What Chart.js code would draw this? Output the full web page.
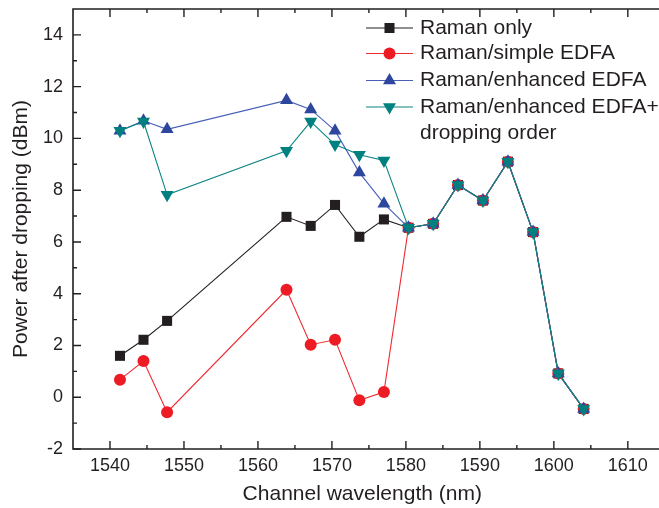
<!DOCTYPE html>
<html><head><meta charset="utf-8">
<script src="https://cdn.jsdelivr.net/npm/chart.js@4/dist/chart.umd.min.js"></script>
<style>html,body{margin:0;padding:0;overflow:hidden;background:#fff;width:659px;height:508px}canvas{display:block}</style>
</head><body>
<canvas id="c" width="659" height="508"></canvas>
<script>
// Channel wavelengths (nm), shared by all series
const wavelengths = [1541.35, 1544.53, 1547.72, 1563.86, 1567.13, 1570.42, 1573.71, 1577.03, 1580.35, 1583.69, 1587.04, 1590.41, 1593.79, 1597.19, 1600.60, 1604.03];
// Power after dropping (dBm)
const ramanOnly      = [1.60, 2.22, 2.95, 6.97, 6.62, 7.43, 6.20, 6.87, 6.55, 6.70, 8.20, 7.60, 9.10, 6.38, 0.92, -0.45];
const ramanSimple    = [0.68, 1.40, -0.58, 4.15, 2.03, 2.22, -0.12, 0.20, 6.55, 6.70, 8.20, 7.60, 9.10, 6.38, 0.92, -0.45];
const ramanEnhanced  = [10.30, 10.68, 10.35, 11.47, 11.12, 10.30, 8.68, 7.48, 6.55, 6.70, 8.20, 7.60, 9.10, 6.38, 0.92, -0.45];
const ramanDropOrder = [10.30, 10.65, 7.82, 9.52, 10.65, 9.76, 9.37, 9.15, 6.55, 6.70, 8.20, 7.60, 9.10, 6.38, 0.92, -0.45];
const seriesLabels = ['Raman only', 'Raman/simple EDFA', 'Raman/enhanced EDFA', 'Raman/enhanced EDFA+ dropping order'];
const xTickValues = [1540, 1550, 1560, 1570, 1580, 1590, 1600, 1610];
const yTickValues = [-2, 0, 2, 4, 6, 8, 10, 12, 14];

const FONT = "'Liberation Sans', Arial, Helvetica, sans-serif";
const TXT = '#231f20';
const AX = '#231f20';

function pts(ys) { return wavelengths.map((x, i) => ({ x: x, y: ys[i] })); }

const styles = [
  { line: '#231f20', fill: '#231f20', shape: 'rect', r: 7.1, rot: 0, order: 3 },
  { line: '#ee2a2f', fill: '#ed1c24', shape: 'circle', r: 6, rot: 0, order: 2 },
  { line: '#4660b8', fill: '#2d479f', shape: 'triangle', r: 7.5, rot: 0, order: 1 },
  { line: '#0b8482', fill: '#00807e', shape: 'triangle', r: 7.5, rot: 180, order: 0 }
];
const seriesValues = [ramanOnly, ramanSimple, ramanEnhanced, ramanDropOrder];

const datasets = seriesValues.map((v, i) => ({
  label: seriesLabels[i],
  data: pts(v),
  borderColor: styles[i].line,
  backgroundColor: styles[i].fill,
  borderWidth: 1.1,
  pointStyle: styles[i].shape,
  pointRadius: styles[i].r,
  pointRotation: styles[i].rot,
  pointBorderWidth: 0,
  pointBackgroundColor: styles[i].fill,
  pointBorderColor: styles[i].fill,
  tension: 0,
  order: styles[i].order,
  clip: false
}));

function zeroPad(s) { s.paddingTop = 0; s.paddingBottom = 0; s.paddingLeft = 0; s.paddingRight = 0; }

const frame = {
  id: 'frame',
  afterDraw(chart) {
    const ctx = chart.ctx, a = chart.chartArea;
    const xs = chart.scales.x, ys = chart.scales.y;
    const xEnd = chart.width + 2;
    ctx.save();
    ctx.strokeStyle = AX;
    ctx.lineWidth = 1.6;
    ctx.beginPath();
    ctx.moveTo(xEnd, a.top); ctx.lineTo(a.left, a.top);
    ctx.lineTo(a.left, a.bottom); ctx.lineTo(xEnd, a.bottom);
    ctx.stroke();
    ctx.lineWidth = 1.4;
    ctx.beginPath();
    const xMinor = xTickValues.map(v => v + 5).concat([xTickValues[0] - 5]);
    xTickValues.forEach(v => {
      const p = xs.getPixelForValue(v);
      ctx.moveTo(p, a.bottom); ctx.lineTo(p, a.bottom - 8);
      ctx.moveTo(p, a.top); ctx.lineTo(p, a.top + 8);
    });
    xMinor.forEach(v => {
      if (v <= xs.min) return;
      const p = xs.getPixelForValue(v);
      ctx.moveTo(p, a.bottom); ctx.lineTo(p, a.bottom - 4);
      ctx.moveTo(p, a.top); ctx.lineTo(p, a.top + 4);
    });
    yTickValues.forEach(v => {
      const p = ys.getPixelForValue(v);
      ctx.moveTo(a.left, p); ctx.lineTo(a.left + 8, p);
    });
    yTickValues.map(v => v + 1).forEach(v => {
      if (v <= ys.min || v >= ys.max) return;
      const p = ys.getPixelForValue(v);
      ctx.moveTo(a.left, p); ctx.lineTo(a.left + 4, p);
    });
    ctx.stroke();

    // legend
    const rowY = [28, 53.5, 80.5, 107];
    const x0 = 366, x1 = 413, xm = 389.5, tx = 420;
    ctx.font = '21px ' + FONT;
    ctx.textBaseline = 'middle';
    ctx.textAlign = 'left';
    datasets.forEach((ds, i) => {
      const y = rowY[i];
      ctx.strokeStyle = ds.borderColor;
      ctx.lineWidth = 1.1;
      ctx.beginPath(); ctx.moveTo(x0, y); ctx.lineTo(x1, y); ctx.stroke();
      ctx.fillStyle = ds.backgroundColor;
      ctx.strokeStyle = ds.backgroundColor;
      Chart.helpers.drawPoint(ctx, { pointStyle: ds.pointStyle, radius: ds.pointRadius, rotation: ds.pointRotation, borderWidth: 0 }, xm, y);
      ctx.fillStyle = TXT;
      const lbl = ds.label;
      const cut = lbl.indexOf('+ ');
      if (cut >= 0) {
        ctx.fillText(lbl.slice(0, cut + 1), tx, y);
        ctx.fillText(lbl.slice(cut + 2), tx, y + 26.5);
      } else {
        ctx.fillText(lbl, tx, y);
      }
    });
    ctx.restore();
  }
};

new Chart(document.getElementById('c'), {
  type: 'line',
  data: { datasets },
  options: {
    responsive: false,
    animation: false,
    devicePixelRatio: 1,
    layout: { padding: { top: 9, left: 0, right: 0, bottom: 0 } },
    plugins: { legend: { display: false }, tooltip: { enabled: false } },
    scales: {
      x: {
        type: 'linear', min: 1535, max: 1613.2,
        afterBuildTicks: s => { s.ticks = xTickValues.map(v => ({ value: v })); },
        afterFit: s => { s.height = 59; zeroPad(s); },
        grid: { display: false, drawTicks: false },
        border: { display: false },
        ticks: { padding: 6, color: TXT, font: { family: FONT, size: 18 }, maxRotation: 0, autoSkip: false, callback: v => String(v) },
        title: { display: true, text: 'Channel wavelength (nm)', color: TXT, font: { family: FONT, size: 21 }, padding: { top: 0, bottom: 1.5 } }
      },
      y: {
        type: 'linear', min: -2, max: 15,
        afterBuildTicks: s => { s.ticks = yTickValues.map(v => ({ value: v })); },
        afterFit: s => { s.width = 73; zeroPad(s); },
        grid: { display: false, drawTicks: false },
        border: { display: false },
        ticks: { padding: 10, color: TXT, font: { family: FONT, size: 18 }, autoSkip: false, callback: v => String(v) },
        title: { display: true, text: 'Power after dropping (dBm)', color: TXT, font: { family: FONT, size: 21 }, padding: { top: 9, bottom: 0 } }
      }
    }
  },
  plugins: [frame]
});
</script>
</body></html>
